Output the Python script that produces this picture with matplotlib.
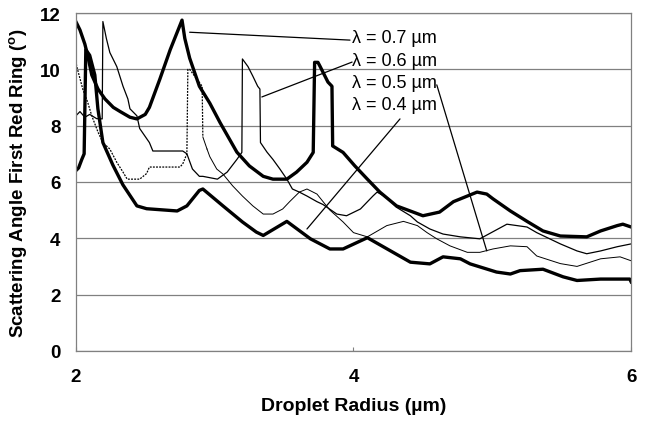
import matplotlib.pyplot as plt
import numpy as np

plt.rcParams['font.family'] = ['Liberation Sans', 'DejaVu Sans']

# droplet radius (um) vs scattering angle of first red ring (deg)
lam07_x = [2.0, 2.03, 2.065, 2.085, 2.115, 2.16, 2.21, 2.27, 2.32, 2.39, 2.44, 2.50, 2.53,
           2.605, 2.68, 2.765, 2.785, 2.80, 2.82, 2.89, 2.965, 3.04, 3.16, 3.25, 3.35, 3.42,
           3.52, 3.59, 3.665, 3.71, 3.72, 3.744, 3.76, 3.816, 3.845, 3.85, 3.925, 4.01, 4.10,
           4.19, 4.31, 4.43, 4.50, 4.62, 4.72, 4.82, 4.89, 4.96, 5.005, 5.13, 5.25, 5.365,
           5.49, 5.68, 5.78, 5.90, 5.94, 6.0]
lam07_y = [11.7, 11.4, 10.9, 10.5, 9.8, 9.3, 8.95, 8.65, 8.5, 8.3, 8.24, 8.4, 8.65,
           9.65, 10.7, 11.75, 11.1, 10.8, 10.4, 9.4, 8.8, 8.1, 7.06, 6.57, 6.2, 6.1,
           6.1, 6.35, 6.7, 7.05, 10.25, 10.25, 10.1, 9.55, 9.4, 7.28, 7.05, 6.57, 6.1,
           5.64, 5.15, 4.93, 4.8, 4.93, 5.3, 5.5, 5.64, 5.57, 5.4, 4.97, 4.6, 4.26,
           4.08, 4.05, 4.26, 4.45, 4.5, 4.4]

lam06_x = [2.0, 2.03, 2.065, 2.10, 2.15, 2.19, 2.195, 2.22, 2.245, 2.295, 2.34, 2.375, 2.39,
           2.44, 2.46, 2.53, 2.555, 2.77, 2.80, 2.84, 2.89, 2.915, 3.02, 3.09, 3.16, 3.196,
           3.20, 3.24, 3.275, 3.31, 3.326, 3.33, 3.377, 3.42, 3.47, 3.52, 3.56, 3.61, 3.665,
           3.737, 3.78, 3.88, 3.95, 4.05, 4.14, 4.17, 4.24, 4.31, 4.41, 4.46, 4.55, 4.645,
           4.77, 4.91, 5.105, 5.25, 5.32, 5.49, 5.61, 5.68, 5.78, 5.90, 6.0]
lam06_y = [8.35, 8.5, 8.3, 8.4, 8.25, 8.24, 11.7, 11.1, 10.6, 10.1, 9.4, 8.95, 8.6,
           8.35, 7.9, 7.4, 7.1, 7.1, 7.0, 6.46, 6.2, 6.2, 6.1, 6.35, 6.8, 7.05,
           10.37, 10.1, 9.76, 9.4, 9.3, 7.4, 7.06, 6.8, 6.46, 6.1, 5.75, 5.64, 5.5,
           5.3, 5.2, 4.86, 4.8, 5.04, 5.5, 5.64, 5.45, 5.1, 4.8, 4.58, 4.33, 4.15,
           4.05, 3.98, 4.5, 4.4, 4.2, 3.8, 3.55, 3.45, 3.55, 3.7, 3.8]

lam05_x = [2.0, 2.007, 2.05, 2.085, 2.115, 2.16, 2.195, 2.245, 2.295, 2.34, 2.37, 2.46,
           2.51, 2.53, 2.75, 2.77, 2.80, 2.807, 2.82, 2.91, 2.915, 2.945, 2.965, 3.015,
           3.06, 3.13, 3.20, 3.275, 3.35, 3.42, 3.49, 3.54, 3.61, 3.665, 3.737, 3.83,
           3.925, 4.0, 4.10, 4.24, 4.36, 4.46, 4.53, 4.60, 4.695, 4.82, 4.91, 5.005,
           5.13, 5.25, 5.32, 5.49, 5.61, 5.78, 5.92, 6.0]
lam05_y = [10.3, 10.1, 9.3, 8.84, 8.35, 7.77, 7.4, 7.17, 6.7, 6.35, 6.1, 6.1,
           6.3, 6.53, 6.53, 6.64, 7.0, 10.0, 10.0, 9.4, 7.6, 7.17, 6.9, 6.46,
           6.28, 5.86, 5.5, 5.15, 4.86, 4.86, 5.04, 5.3, 5.64, 5.75, 5.57, 5.0,
           4.58, 4.2, 4.05, 4.45, 4.6, 4.45, 4.2, 3.98, 3.73, 3.5, 3.5, 3.62,
           3.73, 3.7, 3.37, 3.1, 3.0, 3.27, 3.34, 3.2]

lam04_x = [2.0, 2.02, 2.043, 2.06, 2.072, 2.10, 2.137, 2.159, 2.195, 2.267, 2.339, 2.44,
           2.51, 2.73, 2.80, 2.89, 2.915, 3.06, 3.20, 3.30, 3.35, 3.52, 3.69, 3.83, 3.925,
           4.10, 4.41, 4.55, 4.645, 4.77, 4.84, 5.03, 5.13, 5.20, 5.365, 5.51, 5.61, 5.78,
           5.99, 6.0]
lam04_y = [6.4, 6.5, 6.8, 7.0, 10.7, 10.5, 9.8, 8.6, 7.4, 6.6, 5.9, 5.15,
           5.05, 4.97, 5.15, 5.7, 5.75, 5.15, 4.58, 4.22, 4.1, 4.6, 3.98, 3.62, 3.62,
           4.02, 3.15, 3.09, 3.34, 3.27, 3.09, 2.8, 2.73, 2.85, 2.9, 2.63, 2.5, 2.55,
           2.55, 2.45]

labels = ['\u03bb = 0.7 \u00b5m', '\u03bb = 0.6 \u00b5m', '\u03bb = 0.5 \u00b5m', '\u03bb = 0.4 \u00b5m']
label_pos = [(3.99, 11.15), (3.99, 10.3), (3.99, 9.55), (3.99, 8.75)]
pointer_from = [(3.975, 11.04), (3.99, 10.26), (4.60, 9.45), (4.335, 8.24)]
pointer_to = [(2.82, 11.32), (3.34, 9.02), (4.96, 3.55), (3.665, 4.33)]

fig = plt.figure(figsize=(6.48, 4.27), dpi=100)
ax = fig.add_axes([0.117, 0.176, 0.857, 0.791])

ax.plot(lam07_x, lam07_y, color='black', lw=2.4, solid_joinstyle='round')
ax.plot(lam06_x, lam06_y, color='black', lw=0.9)
x5 = np.array(lam05_x)
y5 = np.array(lam05_y)
early = x5 <= 2.92
ax.plot(x5[early], y5[early], color='black', lw=0.9, linestyle=(0, (1.5, 1)))
ax.plot(x5[~early], y5[~early], color='black', lw=0.7)
ax.plot(x5[early][-1:].tolist() + x5[~early][:1].tolist(),
        y5[early][-1:].tolist() + y5[~early][:1].tolist(), color='black', lw=0.7)
ax.plot(lam04_x, lam04_y, color='black', lw=2.4, solid_joinstyle='round')

for text, pos, p0, p1 in zip(labels, label_pos, pointer_from, pointer_to):
    ax.text(pos[0], pos[1], text, fontsize=13, va='center', ha='left')
    ax.annotate('', xy=p1, xytext=p0,
                arrowprops=dict(arrowstyle='-', color='black', lw=0.9,
                                shrinkA=0, shrinkB=0))

ax.set_xlim(2, 6)
ax.set_ylim(0, 12)
ax.set_xticks([2, 4, 6])
ax.set_yticks(np.arange(0, 13, 2))
ax.yaxis.grid(True, color='#808080', lw=0.9)
ax.set_axisbelow(True)
for s in ax.spines.values():
    s.set_color('#808080')
    s.set_linewidth(0.9)
ax.tick_params(axis='y', length=0, pad=11, labelsize=13.5)
ax.tick_params(axis='x', direction='in', length=3, color='#808080', pad=12, labelsize=13.5)
for t in ax.get_xticklabels() + ax.get_yticklabels():
    t.set_fontweight('bold')

ax.set_xlabel('Droplet Radius (\u00b5m)', fontsize=14, fontweight='bold', labelpad=9)
ax.set_ylabel('Scattering Angle First Red Ring ($^{\\mathregular{o}}$)', fontsize=13.5,
              fontweight='bold', labelpad=7)

fig.savefig('out.png', dpi=100)
